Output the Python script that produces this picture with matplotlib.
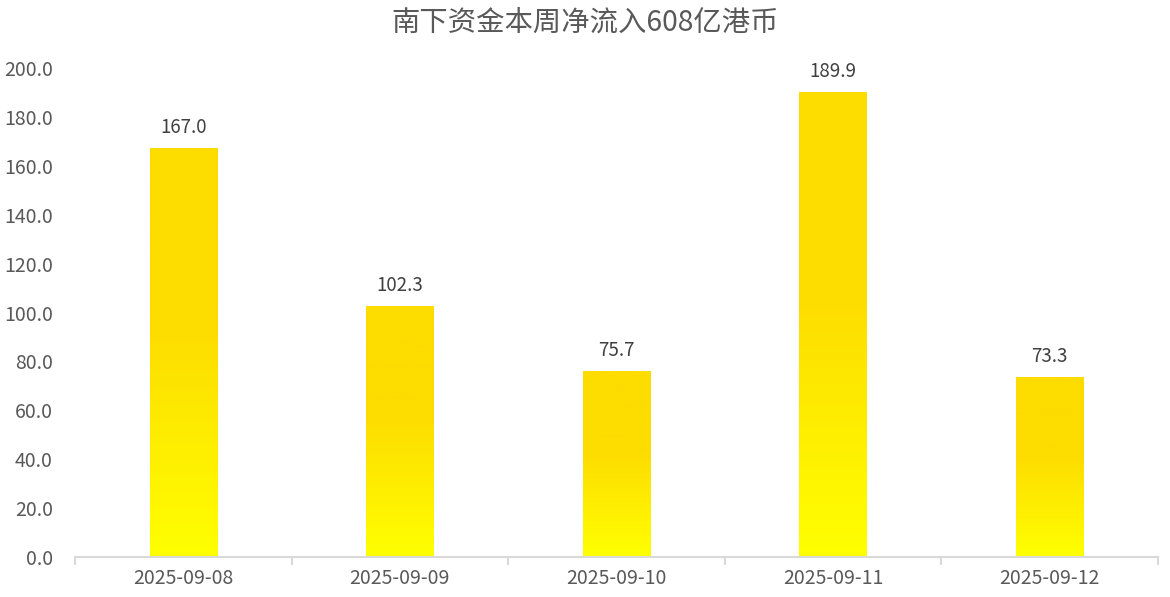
import numpy as np
import matplotlib.pyplot as plt
from matplotlib.colors import LinearSegmentedColormap

dates = ["2025-09-08", "2025-09-09", "2025-09-10", "2025-09-11", "2025-09-12"]
inflow = [167.0, 102.3, 75.7, 189.9, 73.3]
title = "南下资金本周净流入608亿港币"

plt.rcParams['font.family'] = ['Noto Sans CJK SC', 'DejaVu Sans']

fig = plt.figure(figsize=(11.7, 5.97), dpi=100)
ax = fig.add_axes([0.0641, 0.067, 0.9256, 0.819])

# gold at the top, bright yellow at the base
cmap = LinearSegmentedColormap.from_list(
    "gold", [(0.0, "#FFFF00"), (0.55, "#FDDD00"), (1.0, "#FDDC00")])
grad = np.linspace(0, 1, 256).reshape(-1, 1)

x = np.arange(len(dates))
width = 0.31
bars = ax.bar(x, inflow, width=width, color="none", edgecolor="none")
for bar, v in zip(bars, inflow):
    x0 = bar.get_x()
    ax.imshow(grad, cmap=cmap, origin="lower", aspect="auto",
              extent=[x0, x0 + width, 0, v], zorder=2)
    ax.text(bar.get_x() + width / 2, v + 4.5, f"{v:.1f}", ha="center", va="bottom",
            fontsize=13.5, color="#404040")

ax.set_xlim(-0.5, len(dates) - 0.5)
ax.set_ylim(0, 200)
ax.set_yticks(np.arange(0, 201, 20))
ax.set_yticklabels([f"{t:.1f}" for t in np.arange(0, 201, 20)])
ax.set_xticks(x)
ax.set_xticklabels(dates)
ax.set_xticks(np.arange(-0.5, len(dates), 1), minor=True)

for s in ["top", "right", "left"]:
    ax.spines[s].set_visible(False)
ax.spines["bottom"].set_color("#D9D9D9")
ax.spines["bottom"].set_linewidth(1.5)

ax.tick_params(axis="y", length=0, labelsize=14, labelcolor="#595959", pad=16)
ax.tick_params(axis="x", which="major", length=0, labelsize=14, labelcolor="#595959", pad=8)
ax.tick_params(axis="x", which="minor", length=6, color="#D9D9D9", width=1.5)

fig.text(0.5, 0.962, title, ha="center", va="center", fontsize=20.4, color="#595959")

plt.savefig("out.png", dpi=100)
